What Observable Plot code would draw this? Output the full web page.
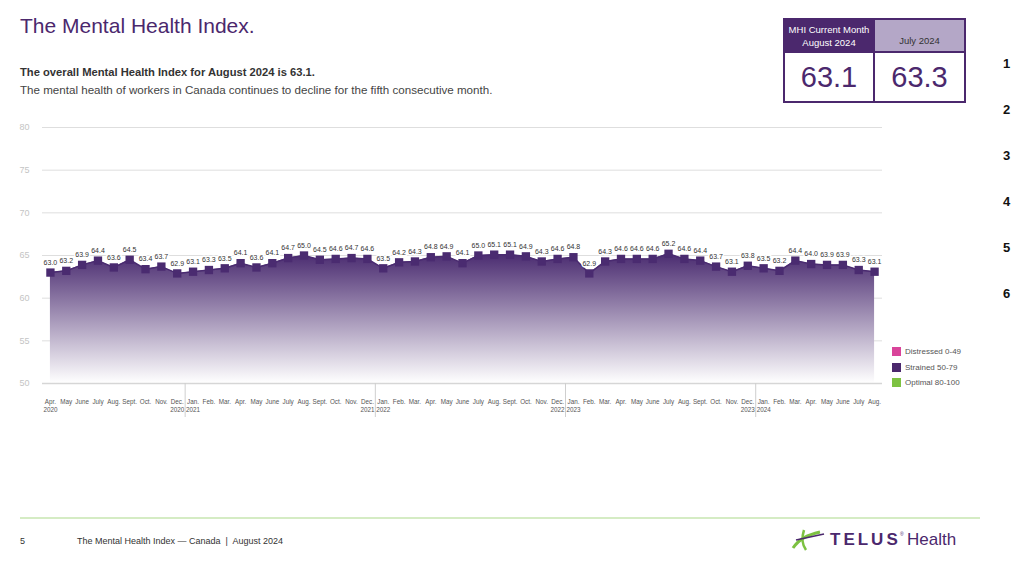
<!DOCTYPE html>
<html>
<head>
<meta charset="utf-8">
<script src="https://cdn.jsdelivr.net/npm/d3@7"></script>
<script src="https://cdn.jsdelivr.net/npm/@observablehq/plot@0.6"></script>
<style>
  body { margin: 0; background: #fff; font-family: "Liberation Sans", Arial, sans-serif; }
  #page { position: relative; width: 1030px; height: 563px; overflow: hidden; background: #fff; }
  .abs { position: absolute; }
  #title { left: 20px; top: 14px; font-size: 21px; color: #4b286d; white-space: nowrap; }
  #sub1 { left: 20px; top: 66px; font-size: 11.2px; font-weight: bold; color: #333; white-space: nowrap; }
  #sub2 { left: 20px; top: 83px; font-size: 11.6px; color: #444; white-space: nowrap; }
  #box { left: 783px; top: 18px; width: 179px; height: 81px; border: 2px solid #4b286d; display: grid;
         grid-template-columns: 90px 89px; grid-template-rows: 33px 48px; }
  #box div { display: flex; align-items: center; justify-content: center; text-align: center; }
  .hd1 { background: #4b286d; color: #fff; font-size: 9.5px; line-height: 13px; border-right: 2px solid #4b286d; border-bottom: 2px solid #4b286d; }
  .hd2 { background: #b4a7c7; color: #333; font-size: 9.5px; padding-top: 10px; box-sizing: border-box; border-bottom: 2px solid #4b286d; }
  .val { font-size: 29px; color: #4b286d; }
  .val.l { border-right: 2px solid #4b286d; }
  #nums div { position: absolute; left: 1003px; font-size: 13px; font-weight: bold; color: #111; }
  #legend { left: 892px; top: 344px; }
  .li { display: flex; align-items: center; height: 15.5px; font-size: 8px; color: #555; }
  .sw { width: 9px; height: 9px; margin-right: 4px; }
  #chart { left: 0; top: 110px; }
  #rule { left: 20px; top: 517px; width: 960px; height: 1.5px; background: #d5ecc4; }
  #pg { left: 20px; top: 536px; font-size: 9px; color: #333; }
  #foot { left: 77px; top: 536px; font-size: 9px; color: #333; white-space: nowrap; }
  #logo { left: 790px; top: 526px; }
</style>
</head>
<body>
<div id="page">
  <div id="title" class="abs">The Mental Health Index.</div>
  <div id="sub1" class="abs">The overall Mental Health Index for August 2024 is 63.1.</div>
  <div id="sub2" class="abs">The mental health of workers in Canada continues to decline for the fifth consecutive month.</div>
  <div id="box" class="abs"></div>
  <div id="nums" class="abs"></div>
  <div id="chart" class="abs"></div>
  <div id="legend" class="abs"></div>
  <div id="rule" class="abs"></div>
  <div id="pg" class="abs">5</div>
  <div id="foot" class="abs">The Mental Health Index — Canada&nbsp; |&nbsp; August 2024</div>
  <div id="logo" class="abs">
    <svg width="180" height="26" viewBox="0 0 180 26">
      <path d="M3 22 C10 12, 18 9, 30 6" stroke="#7dc242" stroke-width="3" fill="none"/>
      <path d="M14 4 C12 10, 11 17, 16 24" stroke="#7dc242" stroke-width="2.5" fill="none"/>
      <path d="M6 14 L34 8" stroke="#4b286d" stroke-width="1.6" fill="none"/>
      <text x="40" y="19" font-family="Liberation Sans, Arial" font-weight="bold" font-size="17" letter-spacing="3" fill="#4b286d">TELUS</text>
      <text x="110" y="10" font-family="Liberation Sans, Arial" font-size="5" fill="#4b286d">®</text>
      <text x="117" y="19" font-family="Liberation Sans, Arial" font-size="17" fill="#4b286d">Health</text>
    </svg>
  </div>
</div>
<script>
// ---- Data ----
const months = [
  "Apr.","May","June","July","Aug.","Sept.","Oct.","Nov.","Dec.",
  "Jan.","Feb.","Mar.","Apr.","May","June","July","Aug.","Sept.","Oct.","Nov.","Dec.",
  "Jan.","Feb.","Mar.","Apr.","May","June","July","Aug.","Sept.","Oct.","Nov.","Dec.",
  "Jan.","Feb.","Mar.","Apr.","May","June","July","Aug.","Sept.","Oct.","Nov.","Dec.",
  "Jan.","Feb.","Mar.","Apr.","May","June","July","Aug."
];
const yearTags = [
  "2020","","","","","","","","2020",
  "2021","","","","","","","","","","","2021",
  "2022","","","","","","","","","","","2022",
  "2023","","","","","","","","","","","2023",
  "2024","","","","","","",""
];
const values = [
  63.0,63.2,63.9,64.4,63.6,64.5,63.4,63.7,62.9,
  63.1,63.3,63.5,64.1,63.6,64.1,64.7,65.0,64.5,64.6,64.7,64.6,
  63.5,64.2,64.3,64.8,64.9,64.1,65.0,65.1,65.1,64.9,64.3,64.6,
  64.8,62.9,64.3,64.6,64.6,64.6,65.2,64.6,64.4,63.7,63.1,63.8,
  63.5,63.2,64.4,64.0,63.9,63.9,63.3,63.1
];
const yTicks = [50,55,60,65,70,75,80];
const boxHeaders = ["MHI Current Month<br>August 2024", "July 2024"];
const boxValues = ["63.1", "63.3"];
const sideNumbers = ["1","2","3","4","5","6"];
const legendLabels = ["Distressed 0-49","Strained 50-79","Optimal 80-100"];
const legendColors = ["#d9449a","#4b286d","#7dc242"];

// ---- Header box ----
const box = document.getElementById("box");
box.innerHTML =
  `<div class="hd1">${boxHeaders[0]}</div><div class="hd2">${boxHeaders[1]}</div>` +
  `<div class="val l">${boxValues[0]}</div><div class="val">${boxValues[1]}</div>`;

// ---- side numbers ----
const nums = document.getElementById("nums");
sideNumbers.forEach((n, k) => {
  const d = document.createElement("div");
  d.textContent = n;
  d.style.top = (56 + k * 45.9) + "px";
  nums.appendChild(d);
});

// ---- legend ----
const legend = document.getElementById("legend");
legendLabels.forEach((l, k) => {
  const row = document.createElement("div");
  row.className = "li";
  row.innerHTML = `<span class="sw" style="background:${legendColors[k]}"></span>${l}`;
  legend.appendChild(row);
});

// ---- chart ----
const data = values.map((v, i) => ({i, v, m: months[i], yr: yearTags[i]}));
const dividers = data.filter(d => d.m === "Jan." && d.i > 0).map(d => d.i - 0.5);

const gradient = () => {
  const defs = d3.create("svg:defs");
  const g = defs.append("linearGradient").attr("id", "mhiGrad")
    .attr("x1", 0).attr("y1", 0).attr("x2", 0).attr("y2", 1);
  g.append("stop").attr("offset", "0%").attr("stop-color", "#4a2b70");
  g.append("stop").attr("offset", "100%").attr("stop-color", "#ffffff");
  return defs.node();
};

const chart = Plot.plot({
  width: 890,
  height: 320,
  marginTop: 17,
  marginBottom: 47,
  marginLeft: 42,
  marginRight: 8,
  style: {fontFamily: "Liberation Sans, Arial, sans-serif", overflow: "visible", background: "transparent"},
  x: {domain: [-0.5, values.length - 0.5], axis: null},
  y: {domain: [50, 80], axis: null},
  marks: [
    gradient,
    Plot.ruleY(yTicks, {stroke: "#dedede", strokeWidth: 1}),
    Plot.areaY(data, {x: "i", y1: 50, y2: "v", fill: "url(#mhiGrad)"}),
    Plot.ruleY([50], {stroke: "#d6d6d6", strokeWidth: 1.5}),
    Plot.lineY(data, {x: "i", y: "v", stroke: "#4a2b70", strokeWidth: 1.5}),
    Plot.dot(data, {x: "i", y: "v", symbol: "square", r: 4.7, fill: "#4a2b70"}),
    Plot.text(data, {x: "i", y: "v", text: d => d.v.toFixed(1), dy: -10, fontSize: 7,
      fill: "#333", stroke: "white", strokeWidth: 3}),
    Plot.text(data, {x: "i", y: 50, text: d => d.yr ? d.m + "\n" + d.yr : d.m,
      dy: 15, lineAnchor: "top", fontSize: 6.3, lineHeight: 1.25, fill: "#555"}),
    Plot.ruleX(dividers, {y1: 50, y2: 50, insetBottom: -34, stroke: "#cfcfcf"}),
    Plot.axisY(yTicks, {tickSize: 0, tickPadding: 13, fontSize: 9, fill: "#c4c4c4", tickFormat: d => d, label: null})
  ]
});
document.getElementById("chart").appendChild(chart);
</script>
</body>
</html>
